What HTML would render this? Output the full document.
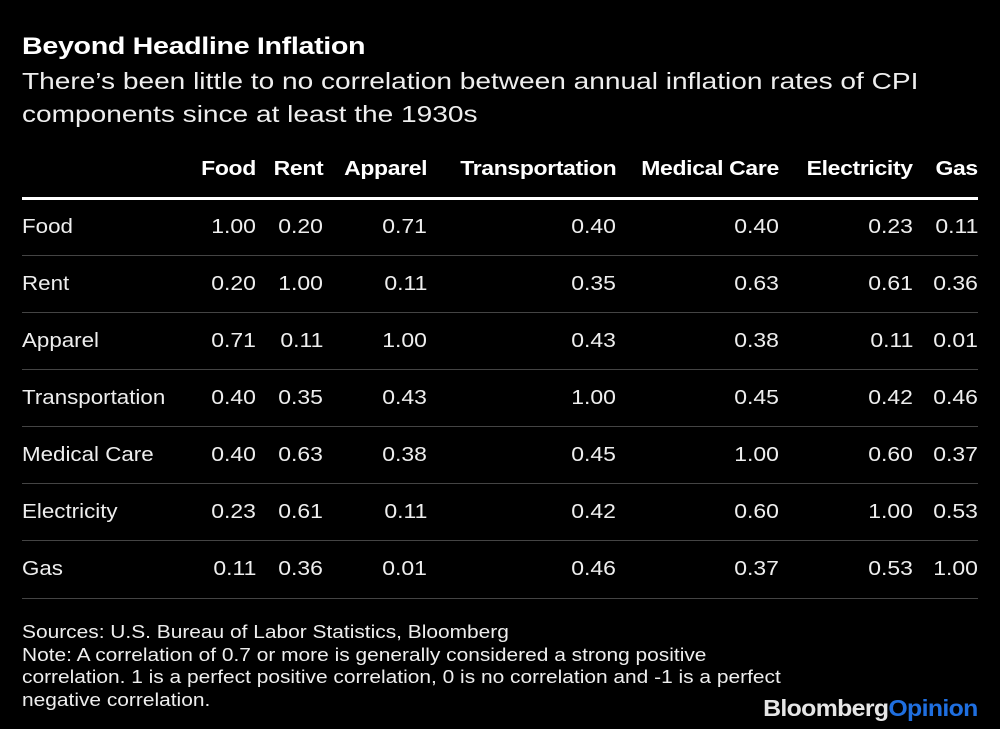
<!DOCTYPE html>
<html><head><meta charset="utf-8"><style>
body{margin:0;background:#000;}
#c{position:relative;width:1000px;height:729px;background:#000;color:#fff;font-family:"Liberation Sans",Arial,sans-serif;overflow:hidden}
.a{position:absolute;white-space:nowrap;transform-origin:left top}
.r{position:absolute;white-space:nowrap;text-align:right;font-size:20.5px;line-height:24px;transform:scaleX(1.12);transform-origin:right top}
.lb{transform:scaleX(1.09);transform-origin:left top}
.l{position:absolute;left:22px;width:956px;height:1px;background:#444}
</style></head><body><div id="c">
<div class="a" style="left:22px;top:33px;font-size:24.5px;font-weight:bold;letter-spacing:-0.3px;transform:scaleX(1.17)">Beyond Headline Inflation</div>
<div class="a" style="left:22px;top:65px;font-size:23px;line-height:33px;color:#eee;transform:scaleX(1.22)">There’s been little to no correlation between annual inflation rates of CPI<br>components since at least the 1930s</div>
<div class="l" style="top:197px;height:3px;background:#fff"></div>
<div class="l" style="top:255px"></div><div class="l" style="top:312px"></div><div class="l" style="top:369px"></div><div class="l" style="top:426px"></div><div class="l" style="top:483px"></div><div class="l" style="top:540px"></div><div class="l" style="top:598px"></div>
<div id="t"></div>
<div class="a" style="left:22px;top:621px;font-size:18.5px;line-height:22.7px;color:#eee;transform:scaleX(1.13)">Sources: U.S. Bureau of Labor Statistics, Bloomberg<br>Note: A correlation of 0.7 or more is generally considered a strong positive<br>correlation. 1 is a perfect positive correlation, 0 is no correlation and -1 is a perfect<br>negative correlation.</div>
<div class="a" style="right:22px;top:695px;font-size:23px;font-weight:bold;letter-spacing:-0.6px;color:#e6e6e6;transform:scaleX(1.08);transform-origin:right top">Bloomberg<span style="color:#1f6fe0">Opinion</span></div>
</div>
<script>
var names=["Food","Rent","Apparel","Transportation","Medical Care","Electricity","Gas"];
var rights=[256,323,427,616,779,913,978];
var d=[[1.00,0.20,0.71,0.40,0.40,0.23,0.11],[0.20,1.00,0.11,0.35,0.63,0.61,0.36],[0.71,0.11,1.00,0.43,0.38,0.11,0.01],[0.40,0.35,0.43,1.00,0.45,0.42,0.46],[0.40,0.63,0.38,0.45,1.00,0.60,0.37],[0.23,0.61,0.11,0.42,0.60,1.00,0.53],[0.11,0.36,0.01,0.46,0.37,0.53,1.00]];
var h="";
for(var j=0;j<7;j++)h+='<div class="r" style="right:'+(1000-rights[j])+'px;top:157px;font-weight:bold;letter-spacing:-0.3px">'+names[j]+'</div>';
for(var i=0;i<7;i++){var y=215+57*i;
h+='<div class="r lb" style="left:22px;text-align:left;top:'+y+'px;color:#eee">'+names[i]+'</div>';
for(var j=0;j<7;j++)h+='<div class="r" style="right:'+(1000-rights[j])+'px;top:'+y+'px;color:#eee">'+d[i][j].toFixed(2)+'</div>';}
document.getElementById("t").innerHTML=h;
</script>
</body></html>
